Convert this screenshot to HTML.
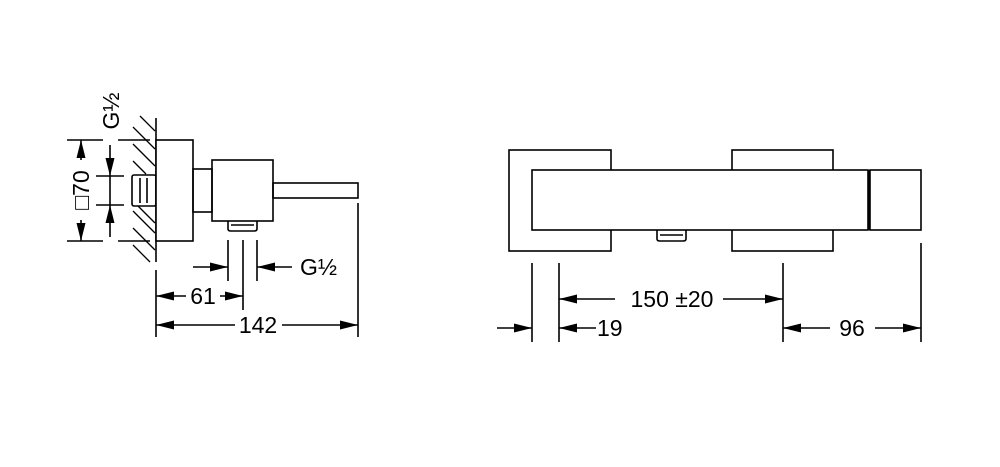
<!DOCTYPE html>
<html><head><style>body{margin:0;background:#fff}svg{display:block}</style></head><body>
<svg width="1000" height="467" viewBox="0 0 1000 467" xmlns="http://www.w3.org/2000/svg">
<defs>
<marker id="a" markerWidth="18" markerHeight="9" refX="18" refY="4.5" orient="auto-start-reverse" markerUnits="userSpaceOnUse"><path d="M0,0 L18,4.5 L0,9 Z" fill="#000"/></marker>
</defs>
<g fill="none" stroke="#000" stroke-width="1.6">
<line x1="156" y1="118" x2="156" y2="262"/>
<g stroke-width="1.3">
<line x1="140" y1="116" x2="155" y2="131"/>
<line x1="133" y1="127" x2="155" y2="149"/>
<line x1="133" y1="144" x2="155" y2="166"/>
<line x1="133" y1="161" x2="146" y2="174"/>
<line x1="138" y1="206" x2="155" y2="223"/>
<line x1="133" y1="211" x2="155" y2="233"/>
<line x1="133" y1="228" x2="155" y2="250"/>
<line x1="133" y1="245" x2="150" y2="262"/>
</g>
<rect x="132" y="175" width="24" height="31" rx="2"/>
<line x1="140" y1="178" x2="140" y2="203"/>
<line x1="147" y1="178" x2="147" y2="203"/>
<rect x="156" y="140" width="37" height="101" fill="#fff"/>
<rect x="193" y="169" width="19" height="43"/>
<rect x="212" y="160" width="61" height="61"/>
<rect x="273" y="183" width="85" height="15"/>
<path d="M228,221 V229 Q228,231 231,231 H254 Q257,231 257,229 V221"/>
<line x1="231" y1="225" x2="254" y2="225"/>
<line x1="67" y1="140" x2="103" y2="140"/><line x1="118" y1="140" x2="150" y2="140"/>
<line x1="67" y1="241" x2="103" y2="241"/><line x1="118" y1="241" x2="150" y2="241"/>
<line x1="81" y1="160" x2="81" y2="140" marker-end="url(#a)"/>
<line x1="81" y1="220" x2="81" y2="241" marker-end="url(#a)"/>
<line x1="110" y1="145" x2="110" y2="176" marker-end="url(#a)"/>
<line x1="110" y1="237" x2="110" y2="205" marker-end="url(#a)"/>
<line x1="110" y1="176" x2="110" y2="205"/>
<line x1="96" y1="176" x2="124" y2="176"/>
<line x1="96" y1="205" x2="124" y2="205"/>
<line x1="228" y1="240" x2="228" y2="281"/>
<line x1="243" y1="240" x2="243" y2="310"/>
<line x1="257" y1="240" x2="257" y2="281"/>
<line x1="193" y1="267" x2="228" y2="267" marker-end="url(#a)"/>
<line x1="292" y1="267" x2="257" y2="267" marker-end="url(#a)"/>
<line x1="156" y1="270" x2="156" y2="337"/>
<line x1="358" y1="203" x2="358" y2="337"/>
<line x1="186" y1="296" x2="156" y2="296" marker-end="url(#a)"/>
<line x1="220" y1="296" x2="243" y2="296" marker-end="url(#a)"/>
<line x1="235" y1="325" x2="156" y2="325" marker-end="url(#a)"/>
<line x1="282" y1="325" x2="358" y2="325" marker-end="url(#a)"/>
<rect x="509" y="150" width="102" height="101"/>
<rect x="732" y="150" width="101" height="101"/>
<rect x="532" y="170" width="336" height="60" fill="#fff"/>
<line x1="869" y1="170" x2="869" y2="230" stroke-width="3"/>
<rect x="870" y="170" width="51" height="60"/>
<path d="M657,230 V239 Q657,241 660,241 H683 Q686,241 686,239 V230"/>
<line x1="660" y1="235" x2="683" y2="235"/>
<line x1="532" y1="263" x2="532" y2="342"/>
<line x1="559" y1="263" x2="559" y2="342"/>
<line x1="783" y1="263" x2="783" y2="342"/>
<line x1="921" y1="243" x2="921" y2="342"/>
<line x1="615" y1="299" x2="559" y2="299" marker-end="url(#a)"/>
<line x1="723" y1="299" x2="783" y2="299" marker-end="url(#a)"/>
<line x1="497" y1="328" x2="532" y2="328" marker-end="url(#a)"/>
<line x1="596" y1="328" x2="559" y2="328" marker-end="url(#a)"/>
<line x1="830" y1="328" x2="783" y2="328" marker-end="url(#a)"/>
<line x1="875" y1="328" x2="921" y2="328" marker-end="url(#a)"/>
</g>
<g font-family="Liberation Sans, sans-serif" font-size="23" fill="#000">
<text x="203" y="304" text-anchor="middle">61</text>
<text x="258" y="333" text-anchor="middle">142</text>
<text x="300" y="275">G½</text>
<text x="672" y="307" text-anchor="middle">150 ±20</text>
<text x="597" y="336">19</text>
<text x="852" y="336" text-anchor="middle">96</text>
<text transform="translate(89,190) rotate(-90)" text-anchor="middle">□70</text>
<text transform="translate(119,111) rotate(-90)" text-anchor="middle">G½</text>
</g>
</svg>
</body></html>
